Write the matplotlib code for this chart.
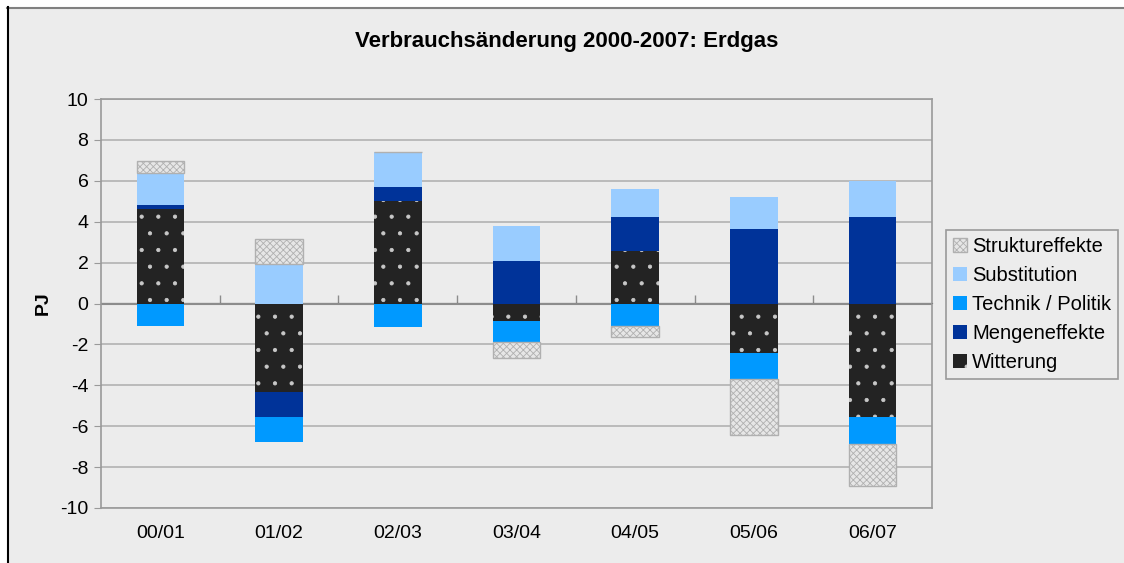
import numpy as np
import matplotlib
matplotlib.use('Agg')
import matplotlib.pyplot as plt
from matplotlib.patches import Rectangle
from matplotlib.lines import Line2D

plt.rcParams['font.family'] = ['Liberation Sans', 'DejaVu Sans']
plt.rcParams['axes.unicode_minus'] = False

# ===== DATEN (PJ) =====
perioden = ['00/01', '01/02', '02/03', '03/04', '04/05', '05/06', '06/07']
witterung = [4.60, -4.34, 4.99, -0.88, 2.58, -2.40, -5.57]
mengeneffekte = [0.24, -1.23, 0.73, 2.10, 1.63, 3.62, 4.25]
technik_politik = [-1.11, -1.21, -1.16, -0.99, -1.12, -1.30, -1.32]
substitution = [1.53, 1.92, 1.71, 1.71, 1.37, 1.61, 1.75]
struktureffekte = [0.61, 1.23, 0.0, -0.78, -0.51, -2.72, -2.02]

# Reihenfolge der Stapelung (von der Nulllinie weg), plus Schraffur-Linienbreite
serien = [
    ('Witterung', witterung, 0.6, dict(color='#232323', edgecolor='#C8C8C8', hatch='.', linewidth=0)),
    ('Mengeneffekte', mengeneffekte, 1.0, dict(color='#003399', linewidth=0)),
    ('Technik / Politik', technik_politik, 1.0, dict(color='#0099FF', linewidth=0)),
    ('Substitution', substitution, 1.0, dict(color='#99CCFF', linewidth=0)),
    ('Struktureffekte', struktureffekte, 0.6, dict(color='#E6E6E6', edgecolor='#B0B0B0', hatch='xxxxx', linewidth=1)),
]

BG = '#ECECEC'
GRID = '#B2B2B2'
AXIS = '#9A9A9A'

fig = plt.figure(figsize=(11.24, 5.63), dpi=100, facecolor=BG)
ax = fig.add_axes([101/1124, 1 - 508/563, (932 - 101)/1124, (508 - 99)/563])
ax.set_facecolor(BG)

x = np.arange(len(perioden))
pos_base = np.zeros(len(perioden))
neg_base = np.zeros(len(perioden))
handles = {}
for name, werte, hlw, style in serien:
    plt.rcParams['hatch.linewidth'] = hlw
    werte = np.array(werte)
    bottom = np.where(werte >= 0, pos_base, neg_base)
    bars = ax.bar(x, werte, width=0.40, bottom=bottom, label=name, zorder=3, **style)
    handles[name] = bars
    pos_base = pos_base + np.clip(werte, 0, None)
    neg_base = neg_base + np.clip(werte, None, 0)

ax.set_xlim(-0.5, len(perioden) - 0.5)
ax.set_ylim(-10, 10)
ax.set_yticks(np.arange(-10, 11, 2))
ax.yaxis.grid(True, color=GRID, linewidth=1.2, zorder=0)
ax.set_axisbelow(True)
ax.tick_params(axis='y', direction='out', length=5, color=AXIS, labelsize=14, pad=4)
ax.set_xticks(x)
ax.set_xticklabels(perioden)
ax.tick_params(axis='x', length=0, labelsize=14, pad=12)
for sp in ax.spines.values():
    sp.set_color(AXIS)
    sp.set_linewidth(1.2)

# Kategorienachse bei 0 mit Teilstrichen zwischen den Kategorien
ax.axhline(0, color='#8C8C8C', linewidth=1.5, zorder=2)
secax = ax.secondary_xaxis(0.5)
secax.set_xticks(np.arange(len(perioden) - 1) + 0.5)
secax.set_xticklabels([])
secax.tick_params(axis='x', direction='out', length=6, color='#8C8C8C', width=1)
secax.spines['bottom'].set_visible(False)

ax.set_ylabel('PJ', fontsize=14, fontweight='bold', labelpad=6)

fig.text(567/1124, 1 - 41/563, 'Verbrauchsänderung 2000-2007: Erdgas',
         ha='center', va='center', fontsize=16, fontweight='bold')

# Legende (umgekehrte Reihenfolge wie im Original)
plt.rcParams['hatch.linewidth'] = 0.6
order = ['Struktureffekte', 'Substitution', 'Technik / Politik', 'Mengeneffekte', 'Witterung']
leg = fig.legend([handles[n] for n in order], order,
                 loc='upper left', bbox_to_anchor=(946/1124, 1 - 230/563),
                 fontsize=14.5, frameon=True, fancybox=False, edgecolor=AXIS,
                 facecolor=BG, framealpha=1, handlelength=0.7, handleheight=0.7,
                 handletextpad=0.25, labelspacing=0.5, borderpad=0.35,
                 borderaxespad=0)
leg.get_frame().set_linewidth(1.2)

# Rahmen wie im Original (weisser Rand oben/links, dunkle Linie)
fig.patches.append(Rectangle((0, 1 - 7/563), 1, 7/563, transform=fig.transFigure,
                             facecolor='white', edgecolor='none', zorder=0))
fig.patches.append(Rectangle((0, 0), 7/1124, 1, transform=fig.transFigure,
                             facecolor='white', edgecolor='none', zorder=0))
fig.lines.append(Line2D([7/1124, 1], [1 - 7.5/563, 1 - 7.5/563], transform=fig.transFigure,
                        color='#808080', linewidth=1.5))
fig.lines.append(Line2D([7.5/1124, 7.5/1124], [0, 1 - 7/563], transform=fig.transFigure,
                        color='black', linewidth=1.5))

fig.savefig('out.png', dpi=100, facecolor=BG)
